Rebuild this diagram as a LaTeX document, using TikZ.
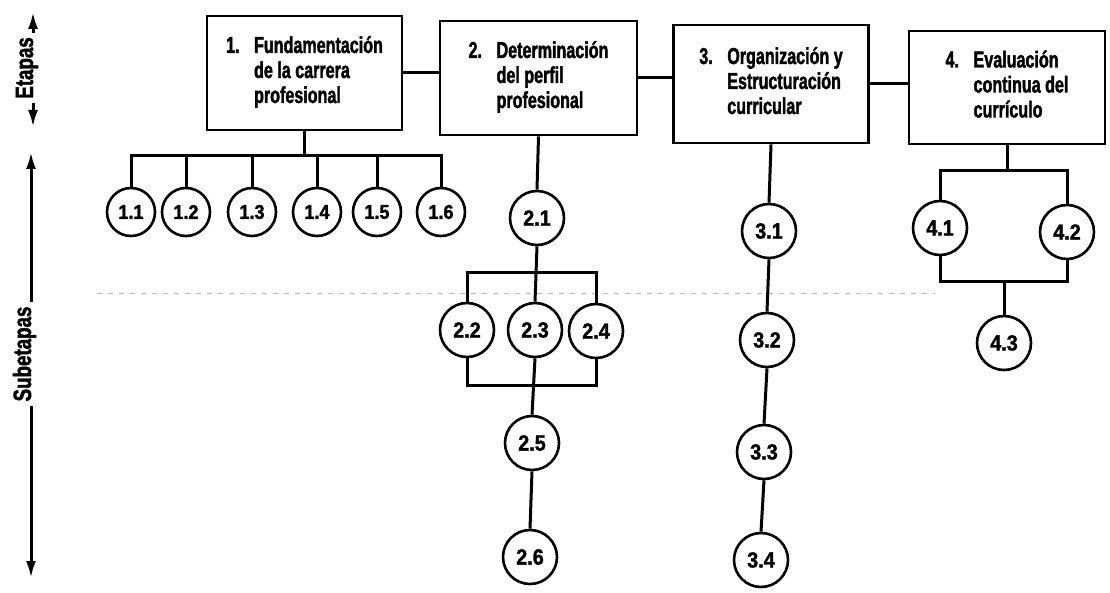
\documentclass[tikz,border=0pt]{standalone}
\usepackage{fontspec}
\setmainfont{Liberation Sans}
\newfontfamily\cond{Liberation Sans}[FakeStretch=0.70, FakeBold=1.6]
\newfontfamily\condb{Liberation Sans}[FakeStretch=0.90, FakeBold=1.6]
\newfontfamily\conda{Liberation Sans}[FakeStretch=0.75, FakeBold=1.8]
\usetikzlibrary{arrows.meta}
\tikzset{
  stage/.style={draw, line width=2.8pt, inner sep=0pt, minimum width=195pt, minimum height=114pt,
    font=\cond\bfseries\fontsize{23}{25}\selectfont},
  sub/.style={circle, draw, line width=2.6pt, inner sep=0pt, minimum size=54pt,
    font=\condb\bfseries\fontsize{22}{22}\selectfont},
  subs/.style={sub, minimum size=48pt, font=\condb\bfseries\fontsize{20}{20}\selectfont},
  conn/.style={line width=3pt},
  ax/.style={line width=3pt, -{Latex[length=17pt,width=10pt]}},
  axlab/.style={rotate=90, inner sep=4pt, anchor=base, font=\conda\bfseries\fontsize{25}{25}\selectfont},
  scan/.style={gray!55, line width=0.8pt, dash pattern=on 5pt off 6pt}
}
\newcommand{\stagetext}[4]{\begin{tabular}{@{}l@{}l@{}}\makebox[28pt][l]{#1}&#2\\&#3\\&#4\end{tabular}}
\begin{document}
\begin{tikzpicture}[x=1pt,y=-1pt]
\fill[white] (0,0) rectangle (1110,593);
\useasboundingbox (0,0) rectangle (1110,593);

% faint scan line
\draw[scan] (97,293) -- (935,293);

% stages
\node[stage] (b1) at (304.5,73) {\stagetext{1.}{Fundamentación}{de la carrera}{profesional}};
\node[stage, minimum width=197pt] (b2) at (538.5,78) {\stagetext{2.}{Determinación}{del perfil}{profesional}};
\node[stage, minimum height=118pt] (b3) at (771,84) {\stagetext{3.}{Organización y}{Estructuración}{curricular}};
\node[stage, minimum width=196pt, minimum height=113pt] (b4) at (1007,87.5) {\stagetext{4.}{Evaluación}{continua del}{currículo}};

\draw[conn] (b1.east) -- (b1.east -| b2.west);
\draw[conn] (b2.east) -- (b2.east -| b3.west);
\draw[conn] (b3.east) -- (b3.east -| b4.west);

% substages 1
\foreach \i/\x in {1/131,2/186,3/252,4/317,5/377,6/441}
  \node[subs] (c1\i) at (\x,212) {1.\i};
\coordinate (bus1) at (300,156);
\draw[conn] (b1.south) -- (b1.south |- bus1);
\draw[conn] (c11.north) -- (c11.north |- bus1) -- (c16.north |- bus1) -- (c16.north);
\foreach \i in {2,...,5}
  \draw[conn] (c1\i.north |- bus1) -- (c1\i.north);

% substages 2
\node[sub] (c21) at (537,218) {2.1};
\node[sub] (c22) at (467,330) {2.2};
\node[sub] (c23) at (535,330) {2.3};
\node[sub] (c24) at (596,331) {2.4};
\node[sub] (c25) at (532,443) {2.5};
\node[sub] (c26) at (530,557) {2.6};
\coordinate (bus2) at (535,273);
\coordinate (bus3) at (535,385);
\draw[conn] (b2.south) -- (c21.north);
\draw[conn] (c21.south) -- (c23.north);
\draw[conn] (c22.north) -- (c22.north |- bus2) -- (c24.north |- bus2) -- (c24.north);
\draw[conn] (c22.south) -- (c22.south |- bus3) -- (c24.south |- bus3) -- (c24.south);
\draw[conn] (c23.south) -- (c25.north);
\draw[conn] (c25.south) -- (c26.north);

% substages 3
\node[sub] (c31) at (769,231) {3.1};
\node[sub] (c32) at (767,340) {3.2};
\node[sub] (c33) at (764,452) {3.3};
\node[sub] (c34) at (761,560) {3.4};
\draw[conn] (b3.south) -- (c31.north);
\draw[conn] (c31.south) -- (c32.north);
\draw[conn] (c32.south) -- (c33.north);
\draw[conn] (c33.south) -- (c34.north);

% substages 4
\node[sub] (c41) at (940,228) {4.1};
\node[sub] (c42) at (1067,232) {4.2};
\node[sub] (c43) at (1004,343) {4.3};
\coordinate (bus4) at (1006,171);
\coordinate (bus5) at (1004,282);
\draw[conn] (b4.south) -- (b4.south |- bus4);
\draw[conn] (c41.north) -- (c41.north |- bus4) -- (c42.north |- bus4) -- (c42.north);
\draw[conn] (c41.south) -- (c41.south |- bus5) -- (c42.south |- bus5) -- (c42.south);
\draw[conn] (c43.north |- bus5) -- (c43.north);

% axis labels
\node[axlab] (et) at (33,68) {Etapas};
\coordinate (etTop) at (33,12);
\coordinate (etBot) at (33,127);
\draw[ax] (et.base east) -- (etTop);
\draw[ax] (et.base west) -- (etBot);

\node[axlab] (se) at (31,354) {Subetapas};
\coordinate (seTop) at (31,152);
\coordinate (seBot) at (31,578);
\draw[ax] (se.base east) -- (seTop);
\draw[ax] (se.base west) -- (seBot);
\end{tikzpicture}
\end{document}
